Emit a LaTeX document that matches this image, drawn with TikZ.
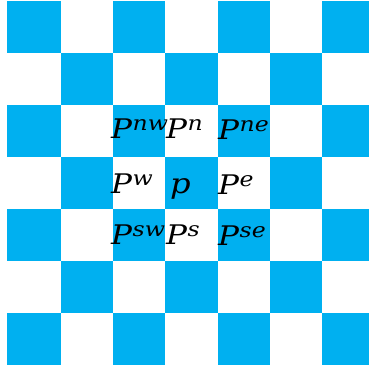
\documentclass[tikz,border=0pt]{standalone}
\usepackage{fontspec}
\usepackage{graphicx}
\newfontfamily\lblfont{DejaVu Serif}
\definecolor{boardblue}{RGB}{0,176,240}
\newcommand{\plbl}[1]{\scalebox{1.15}[1]{\lblfont\itshape\fontsize{27}{27}\selectfont P\kern0.5pt\raisebox{8pt}{\fontsize{20.5}{20.5}\selectfont #1}}}
\begin{document}
\begin{tikzpicture}[x=1pt,y=-1pt,
  cellb/.style={fill=boardblue,draw=none},
  lbl/.style={inner sep=0pt,anchor=base west,text=black}]
\useasboundingbox (0,0) rectangle (369,369);
\fill[white] (0,0) rectangle (369,369);
\def\xs{{7,61,113.2,165.4,217.6,269.8,322,369}}
\def\ys{{1,53,105,157,209,261,313,365}}
\foreach \r in {0,...,6}{
  \foreach \c in {0,...,6}{
    \pgfmathsetmacro{\prty}{int(mod(\r+\c,2))}
    \ifnum\prty=0
      \pgfmathsetmacro{\xa}{\xs[\c]}
      \pgfmathsetmacro{\xb}{\xs[\c+1]}
      \pgfmathsetmacro{\ya}{\ys[\r]}
      \pgfmathsetmacro{\yb}{\ys[\r+1]}
      \fill[cellb] (\xa,\ya) rectangle (\xb,\yb);
    \fi
  }
}
\node[lbl] (nw) at (111,138) {\plbl{nw}};
\node[lbl] (n)  at (166,138) {\plbl{n}};
\node[lbl] (ne) at (218,139) {\plbl{ne}};
\node[lbl] (w)  at (111,193) {\plbl{w}};
\node[lbl] (c)  at (170,193) {\scalebox{1.15}[1]{\lblfont\itshape\fontsize{28}{28}\selectfont p}};
\node[lbl] (e)  at (218,194) {\plbl{e}};
\node[lbl] (sw) at (111,244) {\plbl{sw}};
\node[lbl] (s)  at (166,244) {\plbl{s}};
\node[lbl] (se) at (218,245) {\plbl{se}};
\end{tikzpicture}
\end{document}
